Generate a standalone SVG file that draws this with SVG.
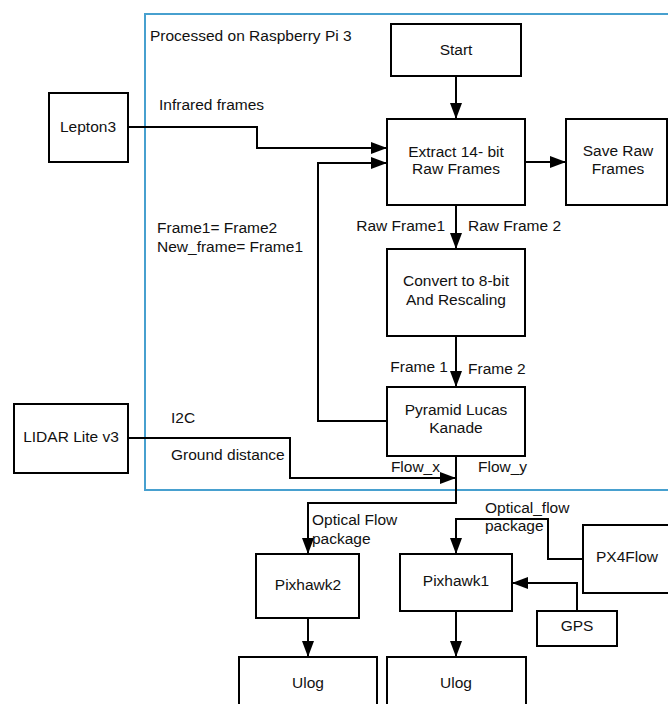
<svg xmlns="http://www.w3.org/2000/svg" width="668" height="704" viewBox="0 0 668 704">
<defs>
<style>
.box{fill:#fff;stroke:#000;stroke-width:2}
.t{font-family:"Liberation Sans",Arial,sans-serif;font-size:15.5px;fill:#111}
.c{text-anchor:middle}
.e{text-anchor:end}
.ln{fill:none;stroke:#000;stroke-width:2}
</style>
<marker id="ah" markerUnits="userSpaceOnUse" markerWidth="16" markerHeight="12" refX="16" refY="6" orient="auto">
<path d="M0,0 L16,6 L0,12 Z" fill="#000"/>
</marker>
</defs>
<rect width="668" height="704" fill="#fff"/>
<g id="container">
<rect x="145" y="14" width="540" height="476" fill="none" stroke="#47a0cf" stroke-width="2"/>
<text class="t" x="150" y="41">Processed on Raspberry Pi 3</text>
</g>
<g id="connectors">
<path class="ln" d="M456,76 V119" marker-end="url(#ah)"/>
<path class="ln" d="M128,127 H257 V148 H387" marker-end="url(#ah)"/>
<path class="ln" d="M387,421 H318 V163 H387" marker-end="url(#ah)"/>
<path class="ln" d="M525,162 H566" marker-end="url(#ah)"/>
<path class="ln" d="M456,205 V249" marker-end="url(#ah)"/>
<path class="ln" d="M456,336 V387" marker-end="url(#ah)"/>
<path class="ln" d="M128,438 H290 V478 H456" marker-end="url(#ah)"/>
<path class="ln" d="M456,456 V503 H308 V554" marker-end="url(#ah)"/>
<path class="ln" d="M583,559 H548 V519 H456 V554" marker-end="url(#ah)"/>
<path class="ln" d="M577,611 V583 H512" marker-end="url(#ah)"/>
<path class="ln" d="M308,618 V657" marker-end="url(#ah)"/>
<path class="ln" d="M456,611 V657" marker-end="url(#ah)"/>
<text class="t" x="159" y="110">Infrared frames</text>
<text class="t" x="157" y="233">Frame1= Frame2</text>
<text class="t" x="157" y="252">New_frame= Frame1</text>
<text class="t e" x="445" y="231">Raw Frame1</text>
<text class="t" x="468" y="231">Raw Frame 2</text>
<text class="t e" x="448" y="372">Frame 1</text>
<text class="t" x="468" y="374">Frame 2</text>
<text class="t" x="171" y="423">I2C</text>
<text class="t" x="171" y="460">Ground distance</text>
<text class="t e" x="440" y="472">Flow_x</text>
<text class="t" x="478" y="472">Flow_y</text>
<text class="t" x="312" y="525">Optical Flow</text>
<text class="t" x="312" y="544">package</text>
<text class="t" x="485" y="513">Optical_flow</text>
<text class="t" x="485" y="531">package</text>
</g>
<g id="lepton3">
<rect class="box" x="49" y="93" width="79" height="69"/>
<text class="t c" x="88" y="132">Lepton3</text>
</g>
<g id="start">
<rect class="box" x="391" y="24" width="130" height="52"/>
<text class="t c" x="456" y="55">Start</text>
</g>
<g id="extract">
<rect class="box" x="387" y="119" width="138" height="86"/>
<text class="t c" x="456" y="157">Extract 14- bit</text>
<text class="t c" x="456" y="174">Raw Frames</text>
</g>
<g id="save">
<rect class="box" x="566" y="119" width="101" height="86"/>
<text class="t c" x="618" y="156">Save Raw</text>
<text class="t c" x="618" y="174">Frames</text>
</g>
<g id="convert">
<rect class="box" x="387" y="249" width="138" height="87"/>
<text class="t c" x="456" y="286">Convert to 8-bit</text>
<text class="t c" x="456" y="305">And Rescaling</text>
</g>
<g id="pyramid">
<rect class="box" x="387" y="387" width="138" height="69"/>
<text class="t c" x="456" y="415">Pyramid Lucas</text>
<text class="t c" x="456" y="433">Kanade</text>
</g>
<g id="lidar">
<rect class="box" x="14" y="404" width="114" height="69"/>
<text class="t c" x="71" y="442">LIDAR Lite v3</text>
</g>
<g id="pixhawk2">
<rect class="box" x="256" y="554" width="103" height="64"/>
<text class="t c" x="308" y="590">Pixhawk2</text>
</g>
<g id="pixhawk1">
<rect class="box" x="400" y="554" width="112" height="57"/>
<text class="t c" x="456" y="586">Pixhawk1</text>
</g>
<g id="px4flow">
<rect class="box" x="583" y="525" width="110" height="68"/>
<text class="t" x="596" y="562">PX4Flow</text>
</g>
<g id="gps">
<rect class="box" x="537" y="611" width="80" height="35"/>
<text class="t c" x="577" y="631">GPS</text>
</g>
<g id="ulog2">
<rect class="box" x="239" y="657" width="138" height="60"/>
<text class="t c" x="308" y="688">Ulog</text>
</g>
<g id="ulog1">
<rect class="box" x="387" y="657" width="139" height="60"/>
<text class="t c" x="456" y="688">Ulog</text>
</g>
</svg>
